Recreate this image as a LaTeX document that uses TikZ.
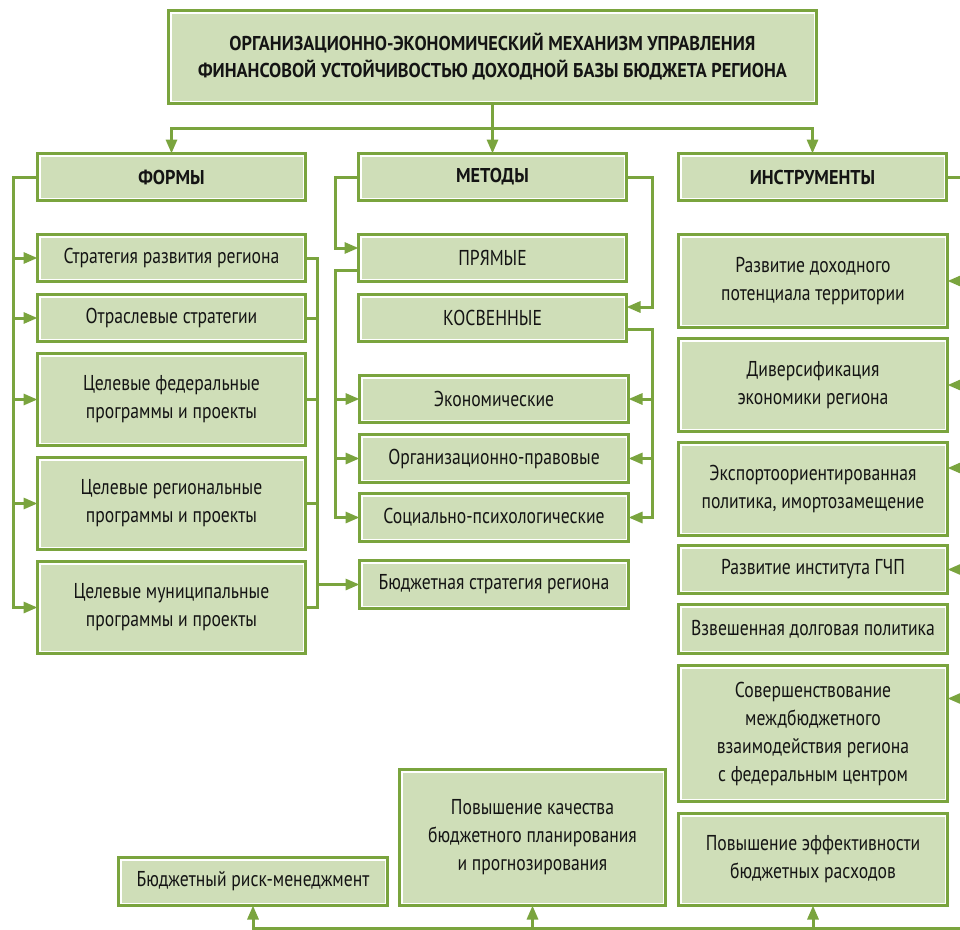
\documentclass[tikz,border=0pt]{standalone}
\usepackage{fontspec}
\setmainfont[FakeStretch=0.82]{PT Sans}
\newfontfamily\hfont[FakeStretch=0.91]{PT Sans}
\usetikzlibrary{arrows.meta}
\definecolor{gline}{RGB}{122,164,62}
\definecolor{gfill}{RGB}{207,222,184}
\definecolor{txt}{RGB}{20,20,20}
\tikzset{
 box/.style={draw=gline, fill=gfill, line width=3pt, inner sep=2pt, outer sep=0pt,
   align=center, text=txt, font=\fontsize{21.5}{28}\selectfont,
   path picture={\draw[white, line width=1.4pt]
     ([shift={(2.3pt,-2.3pt)}]path picture bounding box.north west) rectangle
     ([shift={(-2.3pt,2.3pt)}]path picture bounding box.south east);}},
 hbox/.style={font=\hfont\bfseries\fontsize{20}{27}\selectfont},
 conn/.style={draw=gline, line width=3pt, line cap=rect},
 arr/.style={draw=gline, line width=3pt, -{Triangle[length=14pt,width=11pt]}},
}
\newcommand\mybox[7][]{\node[box,#1, minimum width={(#5-#3-3)*1pt}, minimum height={(#6-#4-3)*1pt}] (#2) at ({(#3+#5)/2},{(#4+#6)/2}) {#7};}
\begin{document}
\begin{tikzpicture}[x=1pt,y=-1pt]
\useasboundingbox (0,0) rectangle (960,929);
\clip (0,0) rectangle (960,929);
\fill[white] (0,0) rectangle (960,929);

\mybox[hbox]{title}{167}{9}{818}{105}{ОРГАНИЗАЦИОННО-ЭКОНОМИЧЕСКИЙ МЕХАНИЗМ УПРАВЛЕНИЯ\\ФИНАНСОВОЙ УСТОЙЧИВОСТЬЮ ДОХОДНОЙ БАЗЫ БЮДЖЕТА РЕГИОНА}
\mybox[hbox]{formy}{36}{152}{307}{202}{ФОРМЫ}
\mybox[hbox]{metody}{357}{152}{628}{202}{МЕТОДЫ}
\mybox[hbox]{instr}{677}{152}{948}{202}{ИНСТРУМЕНТЫ}

\mybox{f1}{36}{233}{307}{283}{Стратегия развития региона}
\mybox{f2}{36}{293}{307}{343}{Отраслевые стратегии}
\mybox{f3}{36}{352}{307}{447}{Целевые федеральные\\программы и проекты}
\mybox{f4}{36}{456}{307}{551}{Целевые региональные\\программы и проекты}
\mybox{f5}{36}{560}{307}{655}{Целевые муниципальные\\программы и проекты}

\mybox{m1}{357}{233}{628}{283}{ПРЯМЫЕ}
\mybox{m2}{357}{293}{628}{343}{КОСВЕННЫЕ}
\mybox{m3}{358}{374}{630}{424}{Экономические}
\mybox{m4}{358}{433}{630}{484}{Организационно-правовые}
\mybox{m5}{358}{492}{630}{543}{Социально-психологические}
\mybox{m6}{358}{559}{630}{610}{Бюджетная стратегия региона}

\mybox{i1}{677}{233}{949}{329}{Развитие доходного\\потенциала территории}
\mybox{i2}{677}{337}{949}{433}{Диверсификация\\экономики региона}
\mybox{i3}{677}{441}{949}{537}{Экспортоориентированная\\политика, имортозамещение}
\mybox{i4}{677}{544}{949}{595}{Развитие института ГЧП}
\mybox{i5}{677}{603}{949}{655}{Взвешенная долговая политика}
\mybox{i6}{677}{664}{949}{803}{Совершенствование\\междбюджетного\\взаимодействия региона\\с федеральным центром}
\mybox{i7}{677}{812}{949}{907}{Повышение эффективности\\бюджетных расходов}

\mybox{b1}{117}{856}{389}{907}{Бюджетный риск-менеджмент}
\mybox{b2}{398}{768}{667}{907}{Повышение качества\\бюджетного планирования\\и прогнозирования}

% title to headers
\coordinate (hb) at (0,128);
\draw[conn] (title.south) -- (title.south |- hb);
\draw[conn] (formy.north |- hb) -- (instr.north |- hb);
\foreach \n in {formy,metody,instr} \draw[arr] (\n.north |- hb) -- (\n.north);

% forms, left
\coordinate (fl) at (13,0);
\draw[conn] (formy.west) -- (formy.west -| fl) -- (f5.west -| fl);
\foreach \n in {f1,f2,f3,f4,f5} \draw[arr] (\n.west -| fl) -- (\n.west);

% forms, right
\coordinate (fr) at (317,0);
\foreach \n in {f1,f2,f3,f4,f5} \draw[conn] (\n.east) -- (\n.east -| fr);
\draw[conn] (f1.east -| fr) -- (f5.east -| fr);
\draw[arr] (m6.west -| fr) -- (m6.west);

% methods, left
\coordinate (ml) at (335,0);
\coordinate (m1a) at ([yshift=10pt]m1.west);
\coordinate (m1b) at ([yshift=-12pt]m1.west);
\draw[arr] (metody.west) -- (metody.west -| ml) -- (m1a -| ml) -- (m1a);
\draw[conn] (m1b) -- (m1b -| ml) -- (m5.west -| ml);
\foreach \n in {m3,m4,m5} \draw[arr] (\n.west -| ml) -- (\n.west);

% methods, right
\coordinate (mr) at (652,0);
\coordinate (m2a) at ([yshift=11pt]m2.east);
\coordinate (m2b) at ([yshift=-11pt]m2.east);
\draw[arr] (metody.east) -- (metody.east -| mr) -- (m2a -| mr) -- (m2a);
\draw[conn] (m2b) -- (m2b -| mr) -- (m5.east -| mr);
\foreach \n in {m3,m4,m5} \draw[arr] (\n.east -| mr) -- (\n.east);

% instruments, right
\coordinate (ir) at (968,0);
\coordinate (bl) at (0,928);
\draw[conn] (instr.east) -- (instr.east -| ir) -- (ir |- bl);
\coordinate (i1a) at (i1.east);
\coordinate (i2a) at (i2.east);
\coordinate (i3a) at ([yshift=21pt]i3.east);
\coordinate (i4a) at (i4.east);
\coordinate (i6a) at ([yshift=35pt]i6.east);
\foreach \n in {i1a,i2a,i3a,i4a,i6a} \draw[arr] (\n -| ir) -- (\n);

% bottom
\draw[conn] (b1.south |- bl) -- (ir |- bl);
\foreach \n in {b1,b2,i7} \draw[arr] (\n.south |- bl) -- (\n.south);
\end{tikzpicture}
\end{document}
